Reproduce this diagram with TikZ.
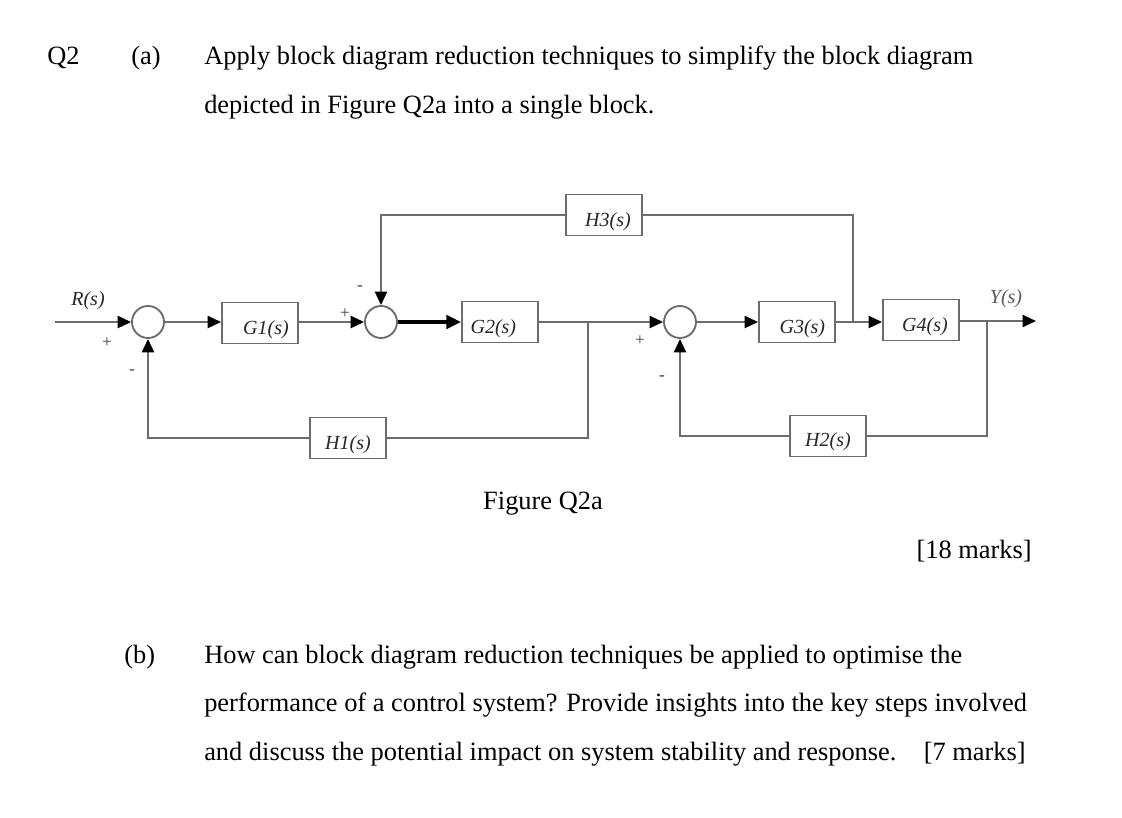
\documentclass[tikz,border=0pt]{standalone}
\usepackage{fontspec}
\setmainfont{Liberation Serif}
\usetikzlibrary{arrows.meta}
\definecolor{ln}{HTML}{6C6C6C}
\definecolor{sg}{HTML}{404040}
\begin{document}
\begin{tikzpicture}[x=0.75pt,y=-0.75pt,
  body/.style={font=\fontsize{19.8}{23}\selectfont, inner sep=0pt},
  lab/.style={font=\fontsize{15}{17}\selectfont\itshape, inner sep=0pt, text=black!85},
  sgn/.style={font=\fontsize{13}{15}\selectfont, inner sep=0pt, text=sg},
  sumj/.style={circle, draw=ln, line width=1.4pt, minimum size=24pt, inner sep=0pt},
  blk/.style={rectangle, draw=ln, line width=1.4pt, minimum width=57pt, minimum height=30.75pt, inner sep=0pt},
  wire/.style={draw=ln, line width=1.6pt},
  arr/.style={wire, -{Triangle[length=10pt,width=9pt,color=black]}},
  thick arr/.style={draw=black, line width=3pt, -{Triangle[length=11pt,width=10pt,color=black]}}
]
\useasboundingbox (0,0) rectangle (1122,818);

% ---------- text ----------
\node[body, anchor=base west] (q2) at (47,64) {Q2};
\node[body, anchor=base west] (qa) at (131,64) {(a)};
\node[body, anchor=base west] (ta1) at (204,64) {Apply block diagram reduction techniques to simplify the block diagram};
\node[body, anchor=base west] (ta2) at (204,113) {depicted in Figure Q2a into a single block.};
\node[body, anchor=base] (fig) at (543,509) {Figure Q2a};
\node[body, anchor=base east] (m18) at (1032,558) {[18 marks]};
\node[body, anchor=base west] (qb) at (124,663) {(b)};
\node[body, anchor=base west] (tb1) at (204,663) {How can block diagram reduction techniques be applied to optimise the};
\node[body, anchor=base west] (tb2) at (204,711) {performance of a control system? Provide insights into the key steps involved};
\node[body, anchor=base west] (tb3) at (204,760) {and discuss the potential impact on system stability and response.\hspace{0.7em} [7 marks]};

% ---------- blocks ----------
\node[sumj] (s1) at (148,322) {};
\node[sumj] (s2) at (381,322) {};
\node[sumj] (s3) at (680,322) {};
\node[blk] (g1) at (260,323) {};
\node[blk] (g2) at (500,322) {};
\node[blk] (g3) at (797,322) {};
\node[blk] (g4) at (921,320) {};
\node[blk] (h1) at (348,438) {};
\node[blk] (h2) at (828,436) {};
\node[blk] (h3) at (604,215) {};

\node[lab] (g1t) at ([xshift=4.5pt,yshift=-5pt]g1.center) {G1(s)};
\node[lab] (g2t) at ([xshift=-5pt,yshift=-5pt]g2.center) {G2(s)};
\node[lab] (g3t) at ([xshift=4pt,yshift=-5pt]g3.center) {G3(s)};
\node[lab] (g4t) at ([xshift=3pt,yshift=-5pt]g4.center) {G4(s)};
\node[lab] (h1t) at ([yshift=-5pt]h1.center) {H1(s)};
\node[lab] (h2t) at ([yshift=-4pt]h2.center) {H2(s)};
\node[lab] (h3t) at ([xshift=3pt,yshift=-5pt]h3.center) {H3(s)};
\node[lab] (rt) at (88,301) {R(s)};
\node[lab, text=black!65] (yt) at (1006,299) {Y(s)};

% ---------- signs ----------
\node[sgn] (p1) at (107,343) {+};
\node[sgn] (m1) at (132,372) {-};
\node[sgn] (p2) at (345,314) {+};
\node[sgn] (m2) at (360,288) {-};
\node[sgn] (p3) at (640,341) {+};
\node[sgn] (m3) at (662,378) {-};

% ---------- coordinates ----------
\coordinate (in) at (55,322);
\coordinate (j1) at (588,322);
\coordinate (j2) at (853,322);
\coordinate (j3) at (987,321);
\coordinate (out) at (1036,321);

% ---------- connectors ----------
\draw[arr] (in) -- (s1.west);
\draw[arr] (s1.east) -- (g1.west |- s1.east);
\draw[arr] (g1.east |- s2.west) -- (s2.west);
\draw[thick arr] (s2.east) -- (g2.west |- s2.east);
\draw[wire] (g2.east) -- (j1);
\draw[arr] (j1) -- (s3.west);
\draw[arr] (s3.east) -- (g3.west |- s3.east);
\draw[wire] (g3.east) -- (j2);
\draw[arr] (j2) -- (g4.west |- j2);
\draw[wire] (g4.east |- j3) -- (j3);
\draw[arr] (j3) -- (out);

\draw[wire] (j1) |- (h1.east);
\draw[arr] (h1.west) -| (s1.south);
\draw[wire] (j3) |- (h2.east);
\draw[arr] (h2.west) -| (s3.south);
\draw[wire] (j2) |- (h3.east);
\draw[arr] (h3.west) -| (s2.north);
\end{tikzpicture}
\end{document}
